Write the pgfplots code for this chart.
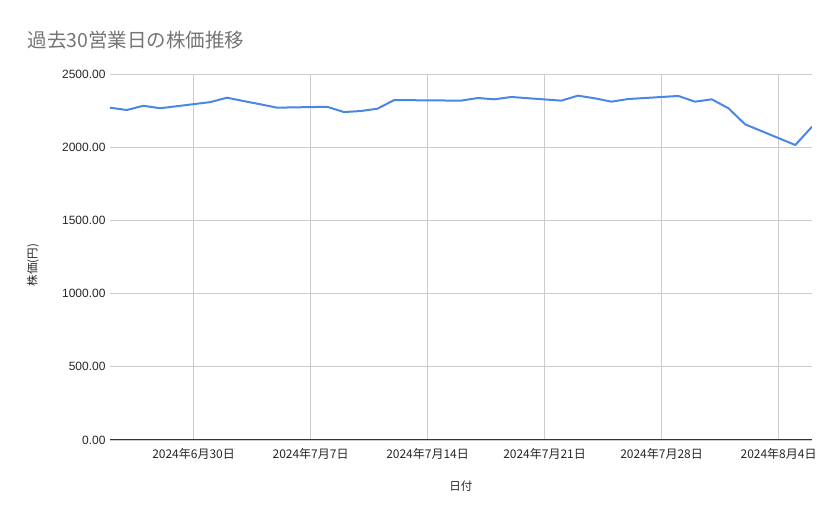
\documentclass[border=0pt]{standalone}
\usepackage{pgfplots}
\pgfplotsset{compat=1.18}
\usepackage{fontspec}
\setmainfont{Liberation Sans}
\newfontfamily\cjk{Noto Sans CJK JP}
\definecolor{lineblue}{HTML}{4A86E8}
\definecolor{gridgray}{HTML}{CCCCCC}
\definecolor{titlegray}{HTML}{757575}

% x = days from 2024-06-30
\pgfplotstableread{
d price
-5 2270
-4 2254
-3 2283
-2 2266
1 2308
2 2338
3 2315
4 2293
5 2270
8 2276
9 2240
10 2247
11 2263
12 2322
16 2318
17 2336
18 2327
19 2343
22 2318
23 2352
24 2334
25 2311
26 2329
29 2350
30 2311
31 2327
32 2266
33 2156
36 2015
37 2140
}\prices

\begin{document}
\begin{tikzpicture}
\useasboundingbox (0,0) rectangle (839pt,519pt);
\begin{axis}[
    at={(110pt,79pt)}, anchor=south west,
    scale only axis,
    width=702pt, height=366pt,
    xmin=-5, xmax=37,
    ymin=0, ymax=2500,
    xtick={0,7,14,21,28,35},
    xticklabels={{2024年6月30日},{2024年7月7日},{2024年7月14日},{2024年7月21日},{2024年7月28日},{2024年8月4日}},
    ytick={0,500,1000,1500,2000,2500},
    yticklabels={0.00,500.00,1000.00,1500.00,2000.00,2500.00},
    x tick label style={font=\cjk\fontsize{12}{14}\selectfont, text=black!85, yshift=-5pt},
    y tick label style={font=\fontsize{12}{14}\selectfont, text=black!85, xshift=-1pt},
    major tick length=0pt,
    grid=major,
    major grid style={draw=gridgray, line width=0.9pt},
    axis x line*=bottom, axis y line*=left,
    y axis line style={draw=none},
    x axis line style={-, draw=black!80, line width=1pt},
    title={\cjk 過去30営業日の株価推移},
    title style={at={(rel axis cs:-0.1225,1.075)}, anchor=west,
        font=\fontsize{19.5}{23}\selectfont, text=titlegray},
    xlabel={\cjk 日付},
    xlabel style={at={(rel axis cs:0.5,-0.1257)}, anchor=center,
        font=\fontsize{11.5}{13}\selectfont, text=black!85},
    ylabel={\cjk 株価(円)},
    ylabel style={at={(rel axis cs:-0.1097,0.478)}, anchor=center, rotate=0,
        font=\fontsize{11.5}{13}\selectfont, text=black!85},
]
\addplot[lineblue, line width=2pt, line join=round] table[x=d, y=price] {\prices};
\end{axis}
\end{tikzpicture}
\end{document}
